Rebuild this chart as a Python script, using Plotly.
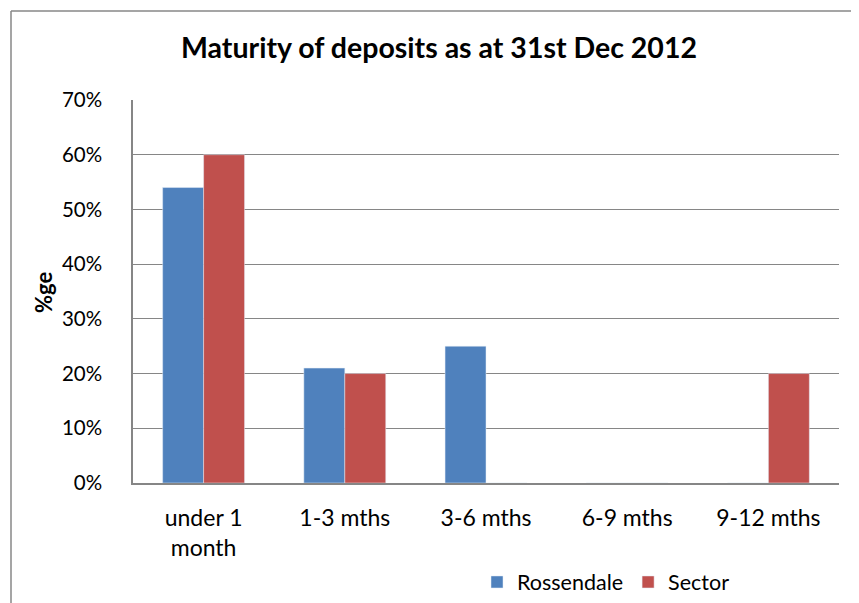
import plotly.graph_objects as go

categories = ["under 1<br>month", "1-3 mths", "3-6 mths", "6-9 mths", "9-12 mths"]
rossendale = [0.54, 0.21, 0.25, 0, 0]
sector = [0.60, 0.20, 0, 0, 0.20]
y_ticks = [0, 0.1, 0.2, 0.3, 0.4, 0.5, 0.6, 0.7]

FONT = "Lato, Open Sans, sans-serif"
W, H = 859, 603
OFF = 8  # page body margin offset
L, T = 133 - OFF, 100 - OFF
R = W - (839 - OFF)
B = H - (483 - OFF)
pw = W - L - R
ph = H - T - B
Y0 = 483 - OFF  # pixel y of zero line in figure coords


def px(x):
    return (x - OFF - L) / pw


def py(y):
    return (Y0 - (y - OFF)) / ph


fig = go.Figure()
fig.add_trace(go.Bar(name="Rossendale", x=categories, y=rossendale, marker_color="#4F81BD"))
fig.add_trace(go.Bar(name="Sector", x=categories, y=sector, marker_color="#C0504D"))

fig.update_layout(
    width=W, height=H,
    margin=dict(l=L, r=R, t=T, b=B, autoexpand=False),
    paper_bgcolor="white", plot_bgcolor="white",
    barmode="group", bargap=0.42, bargroupgap=0,
    font=dict(family=FONT, size=20, color="black"),
    title=dict(text="<b>Maturity of deposits as at 31st Dec 2012</b>",
               x=(439 - OFF) / W, xanchor="center", y=1 - (48 - OFF) / H, yanchor="middle",
               font=dict(size=28.5, family=FONT, color="black")),
    showlegend=True,
    legend=dict(orientation="h", x=px(477), xanchor="left",
                y=py(582), yanchor="middle",
                font=dict(size=21.5, family=FONT), traceorder="normal"),
    xaxis=dict(showline=True, linecolor="#868686", linewidth=1.5, ticks="",
               tickfont=dict(size=23), showgrid=False, automargin=False,
               ticklabelstandoff=14),
    yaxis=dict(range=[0, 0.7], tickvals=y_ticks, tickformat=".0%",
               showgrid=True, gridcolor="#868686", gridwidth=1.3,
               showline=True, linecolor="#868686", linewidth=1.5,
               ticks="", ticklabelstandoff=25, tickfont=dict(size=20.5),
               zeroline=False, automargin=False),
    annotations=[
        dict(text="<b>%ge</b>", xref="paper", yref="paper",
             x=px(43), y=py(293), xanchor="center", yanchor="middle",
             textangle=-90, showarrow=False, font=dict(size=22, family=FONT)),
    ],
    shapes=[
        dict(type="line", xref="paper", yref="paper",
             x0=px(11), x1=px(W + 10), y0=py(11), y1=py(11),
             line=dict(color="#878787", width=1.5)),
        dict(type="line", xref="paper", yref="paper",
             x0=px(11), x1=px(11), y0=py(11), y1=py(H + 10),
             line=dict(color="#878787", width=1.5)),
    ],
)

fig.write_html("out.html")
